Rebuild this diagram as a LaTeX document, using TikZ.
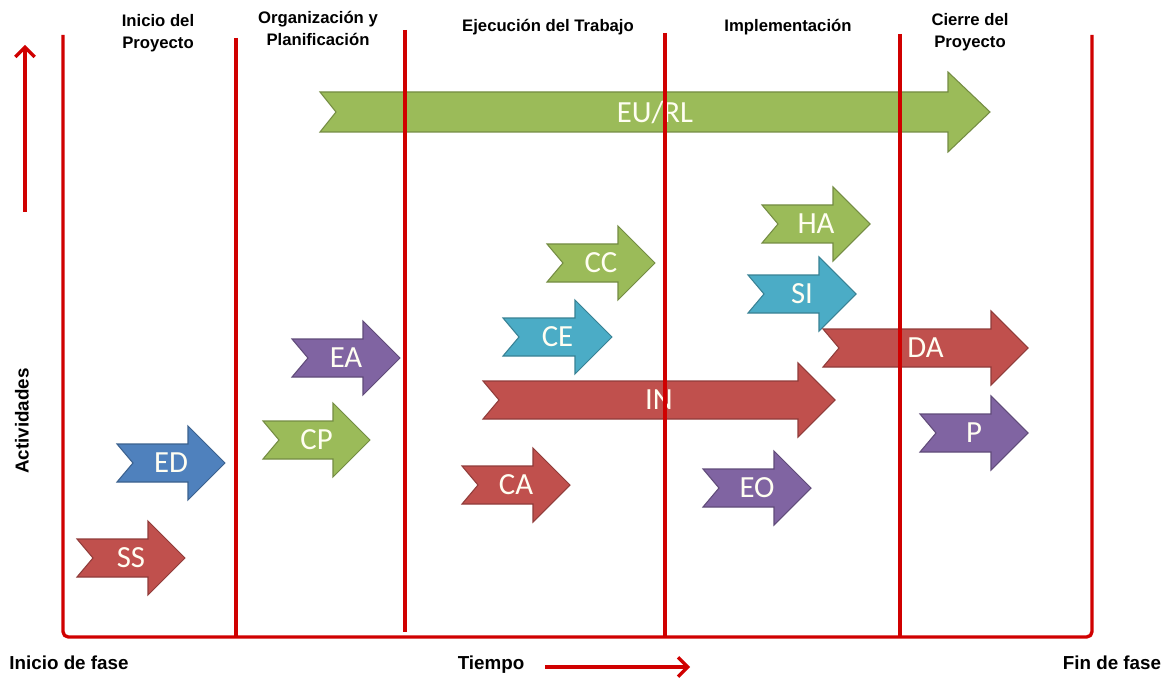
\documentclass[tikz,border=0pt]{standalone}
\usepackage{fontspec}
\setmainfont{Liberation Sans}
\newfontfamily\calibri{Carlito}
\usepackage{xcolor}
\usetikzlibrary{arrows.meta}

\definecolor{rojo}{HTML}{C0504D}
\definecolor{azul}{HTML}{4F81BD}
\definecolor{verde}{HTML}{9BBB59}
\definecolor{morado}{HTML}{8064A2}
\definecolor{celeste}{HTML}{4BACC6}
\definecolor{linea}{HTML}{D00000}

% chevron arrow: name, left x, tip x, centre y, colour, label
\newcommand{\actividad}[6]{%
  \filldraw[fill=#5, draw=#5!75!black, line width=0.6pt]
    (#2,#4-19) -- (#3-37,#4-19) -- (#3-37,#4-37) -- (#3,#4)
    -- (#3-37,#4+37) -- (#3-37,#4+19) -- (#2,#4+19) -- (#2+16,#4) -- cycle;
  \node[etiqueta] (#1) at ({(#2+#3)/2},#4) {#6};
}

\begin{document}
\begin{tikzpicture}[
    x=0.02cm,
    y=-0.02cm,
    fase/.style={font=\bfseries\fontsize{9.5}{12.5}\selectfont, align=center},
    eje/.style={font=\bfseries\fontsize{10.7}{13}\selectfont},
    etiqueta/.style={font=\calibri\fontsize{17.5}{20}\selectfont, text=white!95!yellow},
    divisor/.style={draw=linea, line width=1.9pt, line join=round},
    flecha/.style={draw=linea, line width=1.9pt, -{Straight Barb[length=5.5pt,width=11pt]}}
]
    \useasboundingbox (0,0) rectangle (1171,679);

    % long arrow
    \filldraw[fill=verde, draw=verde!75!black, line width=0.6pt]
      (320,92) -- (948,92) -- (948,72) -- (990,112) -- (948,152) -- (948,132)
      -- (320,132) -- (336,112) -- cycle;
    \node[etiqueta] (eurl) at (655,112) {EU/RL};

    % activities
    \actividad{ss}{77}{185}{558}{rojo}{SS}
    \actividad{ed}{117}{225}{463}{azul}{ED}
    \actividad{cp}{263}{370}{440}{verde}{CP}
    \actividad{ea}{292}{400}{358}{morado}{EA}
    \actividad{ca}{462}{570}{485}{rojo}{CA}
    \actividad{ce}{503}{612}{337}{celeste}{CE}
    \actividad{cc}{547}{655}{263}{verde}{CC}
    \actividad{in}{483}{835}{400}{rojo}{IN}
    \actividad{ha}{762}{870}{224}{verde}{HA}
    \actividad{si}{748}{856}{294}{celeste}{SI}
    \actividad{da}{823}{1028}{348}{rojo}{DA}
    \actividad{eo}{703}{811}{488}{morado}{EO}
    \actividad{p}{920}{1028}{433}{morado}{P}

    % phase lines
    \draw[divisor, rounded corners=3pt] (63,35) -- (63,637) -- (1092,637) -- (1092,35);
    \foreach \x/\ya/\yb in {236/38/637, 405/30/632, 665/33/637, 900/34/637}
      \draw[divisor] (\x,\ya) -- (\x,\yb);

    % phase titles
    \node[fase] (inicio) at (158,33) {Inicio del\\Proyecto};
    \node[fase] (organizacion) at (318,28) {Organización y\\Planificación};
    \node[fase] (ejecucion) at (548,27) {Ejecución del Trabajo};
    \node[fase] (implementacion) at (788,27) {Implementación};
    \node[fase] (cierre) at (970,32) {Cierre del\\Proyecto};

    % axes
    \node[eje, rotate=90] (actividades) at (22,421) {Actividades};
    \coordinate (a1) at (25,212);
    \coordinate (a2) at (25,45);
    \draw[flecha] (a1) -- (a2);

    \node[eje] (iniciofase) at (69,663) {Inicio de fase};
    \node[eje] (tiempo) at (491,665) {Tiempo};
    \node[eje] (finfase) at (1112,663) {Fin de fase};
    \coordinate (t1) at (545,667);
    \coordinate (t2) at (690,667);
    \draw[flecha] (t1) -- (t2);
\end{tikzpicture}
\end{document}
